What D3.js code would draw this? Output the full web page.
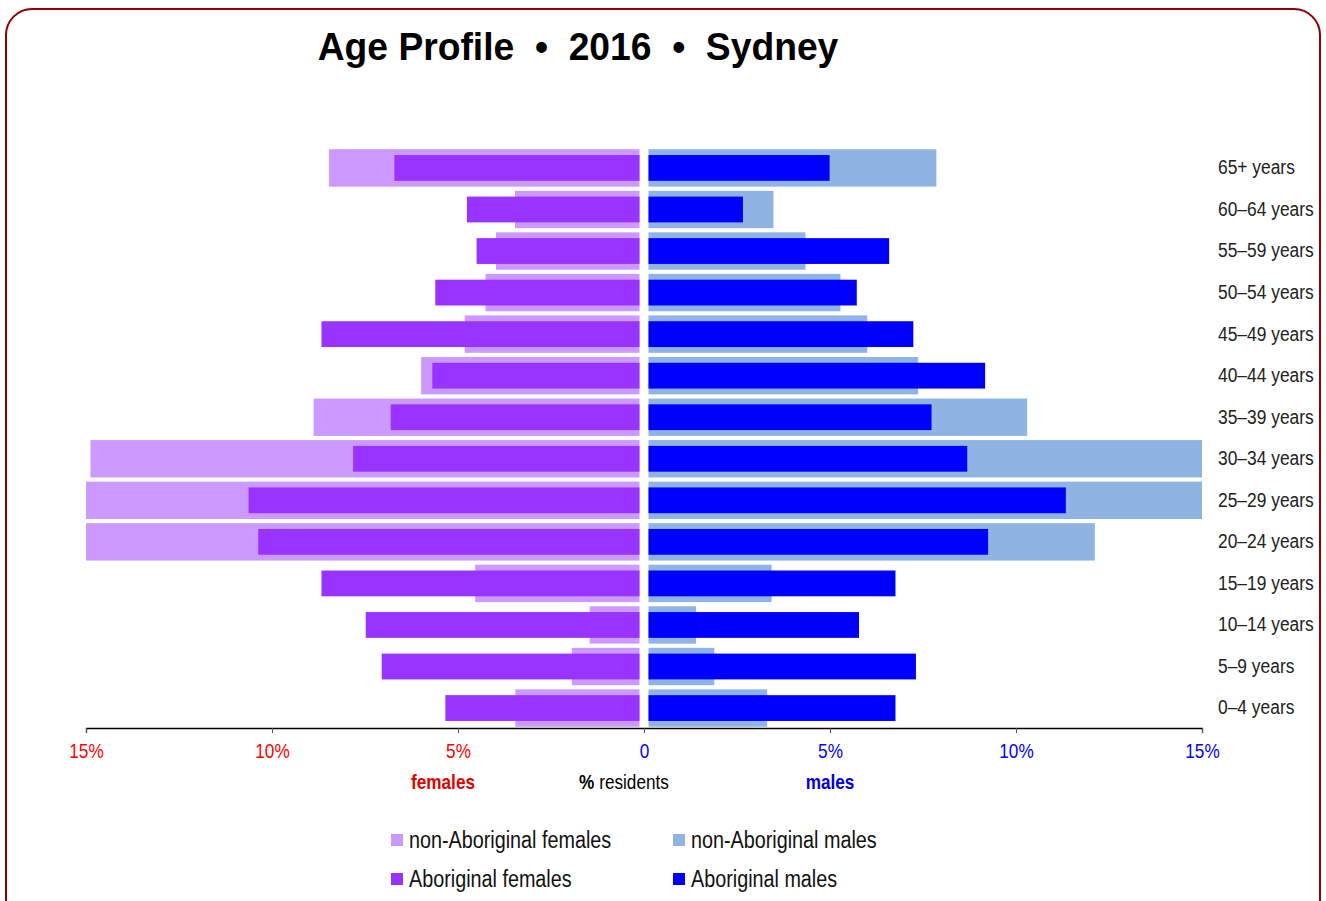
<!DOCTYPE html>
<html>
<head>
<meta charset="utf-8">
<script src="https://cdn.jsdelivr.net/npm/d3@7"></script>
<style>
  body { margin: 0; background: #fff; }
  text { font-family: "Liberation Sans", Arial, sans-serif; }
</style>
</head>
<body>
<div id="container"></div>
<script>
/* DATA */
const ages = ["65+ years", "60–64 years", "55–59 years", "50–54 years", "45–49 years", "40–44 years",
  "35–39 years", "30–34 years", "25–29 years", "20–24 years", "15–19 years", "10–14 years",
  "5–9 years", "0–4 years"];
const nonAborigFemales = [8.47, 3.47, 3.98, 4.26, 4.82, 5.99, 8.88, 14.88, 15.4, 15.3, 4.54, 1.46, 1.94, 3.46];
const aborigFemales = [6.71, 4.76, 4.50, 5.61, 8.67, 5.69, 6.81, 7.82, 10.63, 10.37, 8.67, 7.48, 7.05, 5.34];
const nonAborigMales = [7.86, 3.48, 4.34, 5.28, 6.00, 7.37, 10.30, 15.3, 15.6, 12.12, 3.43, 1.40, 1.89, 3.31];
const aborigMales = [4.99, 2.66, 6.59, 5.72, 7.24, 9.17, 7.73, 8.69, 11.34, 9.25, 6.76, 5.78, 7.31, 6.76];
const xTicks = [-15, -10, -5, 0, 5, 10, 15];
const legendItems = ["non-Aboriginal females", "non-Aboriginal males", "Aboriginal females", "Aboriginal males"];

/* CONSTANTS */
const width = 1326, height = 901;
const colors = {
  nonF: "#cc99ff", abF: "#9933ff", nonM: "#8fb4e3", abM: "#0000ff"
};
const legendColors = [colors.nonF, colors.nonM, colors.abF, colors.abM];
const gap = 4.5;
const narrow = "scale(0.86,1)";   // fake a condensed face

const svg = d3.select("#container")
  .append("svg")
  .attr("width", width)
  .attr("height", height);

// frame
svg.append("rect")
  .attr("x", 6).attr("y", 9)
  .attr("width", 1314).attr("height", 920)
  .attr("rx", 26)
  .attr("fill", "none")
  .attr("stroke", "#8b0000")
  .attr("stroke-width", 2);

svg.append("text")
  .attr("transform", "translate(578,60) scale(0.98,1)")
  .attr("text-anchor", "middle")
  .style("white-space", "pre")
  .style("font-weight", "bold")
  .style("font-size", "38px")
  .text("Age Profile  •  2016  •  Sydney");

/* SCALES */
const xScale = d3.scaleLinear().domain([-15, 15]).range([86, 1202]).clamp(true);
const x0 = xScale(0);

const yScale = d3.scaleBand()
  .domain(ages)
  .range([148, 728])
  .paddingInner(0.1)
  .paddingOuter(0.03);

const bw = yScale.bandwidth();
const innerH = bw * 0.69;

const rows = ages.map((a, i) => ({
  age: a,
  nonF: nonAborigFemales[i], abF: aborigFemales[i],
  nonM: nonAborigMales[i], abM: aborigMales[i]
}));

const bars = svg.append("g");

// non-Aboriginal (outer)
bars.selectAll(".nonF").data(rows).join("rect")
  .attr("x", d => xScale(-d.nonF))
  .attr("y", d => yScale(d.age))
  .attr("width", d => x0 - gap - xScale(-d.nonF))
  .attr("height", bw)
  .attr("fill", colors.nonF);

bars.selectAll(".nonM").data(rows).join("rect")
  .attr("x", x0 + gap)
  .attr("y", d => yScale(d.age))
  .attr("width", d => xScale(d.nonM) - x0 - gap)
  .attr("height", bw)
  .attr("fill", colors.nonM);

// Aboriginal (inner)
bars.selectAll(".abF").data(rows).join("rect")
  .attr("x", d => xScale(-d.abF))
  .attr("y", d => yScale(d.age) + (bw - innerH) / 2)
  .attr("width", d => x0 - gap - xScale(-d.abF))
  .attr("height", innerH)
  .attr("fill", colors.abF);

bars.selectAll(".abM").data(rows).join("rect")
  .attr("x", x0 + gap)
  .attr("y", d => yScale(d.age) + (bw - innerH) / 2)
  .attr("width", d => xScale(d.abM) - x0 - gap)
  .attr("height", innerH)
  .attr("fill", colors.abM);

/* AXES */
const xAxis = d3.axisBottom(xScale)
  .tickValues(xTicks)
  .tickSize(5)
  .tickPadding(11)
  .tickFormat(d => d === 0 ? "0" : Math.abs(d) + "%");

svg.append("g")
  .attr("transform", `translate(0,728)`)
  .call(xAxis)
  .call(g => g.select(".domain").attr("stroke", "#000").attr("stroke-width", 1.3))
  .call(g => g.selectAll(".tick line").attr("stroke", "#555"))
  .call(g => g.selectAll(".tick text")
    .attr("transform", narrow)
    .style("font-size", "20px")
    .attr("fill", d => d < 0 ? "#ff0000" : "#0000ff"));

const yAxis = d3.axisRight(yScale).tickSize(0).tickPadding(0);

svg.append("g")
  .attr("transform", `translate(1218,0)`)
  .call(yAxis)
  .call(g => g.select(".domain").remove())
  .call(g => g.selectAll(".tick text")
    .attr("transform", "scale(0.87,1)")
    .style("font-size", "20px")
    .attr("fill", "#222"));

// axis captions
const captions = [
  { x: 443, t: "females", c: "#e00000", w: "bold" },
  { x: 624, t: "% residents", c: "#000", w: "normal" },
  { x: 830, t: "males", c: "#0000e0", w: "bold" }
];
svg.selectAll(".cap").data(captions).join("text")
  .attr("transform", d => `translate(${d.x},789) ${narrow}`)
  .attr("text-anchor", "middle")
  .attr("fill", d => d.c)
  .style("font-weight", d => d.w)
  .style("font-size", "20px")
  .each(function(d) {
    const t = d3.select(this);
    if (d.t.startsWith("%")) {
      t.append("tspan").style("font-weight", "bold").text("%");
      t.append("tspan").text(d.t.slice(1));
    } else {
      t.text(d.t);
    }
  });

/* LEGEND */
const legend = svg.append("g");
const lg = legend.selectAll("g").data(legendItems).join("g")
  .attr("transform", (d, i) => `translate(${i % 2 === 0 ? 391 : 673},${i < 2 ? 840 : 879})`);

lg.append("rect")
  .attr("x", 0).attr("y", -6)
  .attr("width", 12).attr("height", 12)
  .attr("fill", (d, i) => legendColors[i]);

lg.append("text")
  .attr("transform", `translate(18,8) scale(0.86,1)`)
  .style("font-size", "23px")
  .attr("fill", "#111")
  .text(d => d);
</script>
</body>
</html>
